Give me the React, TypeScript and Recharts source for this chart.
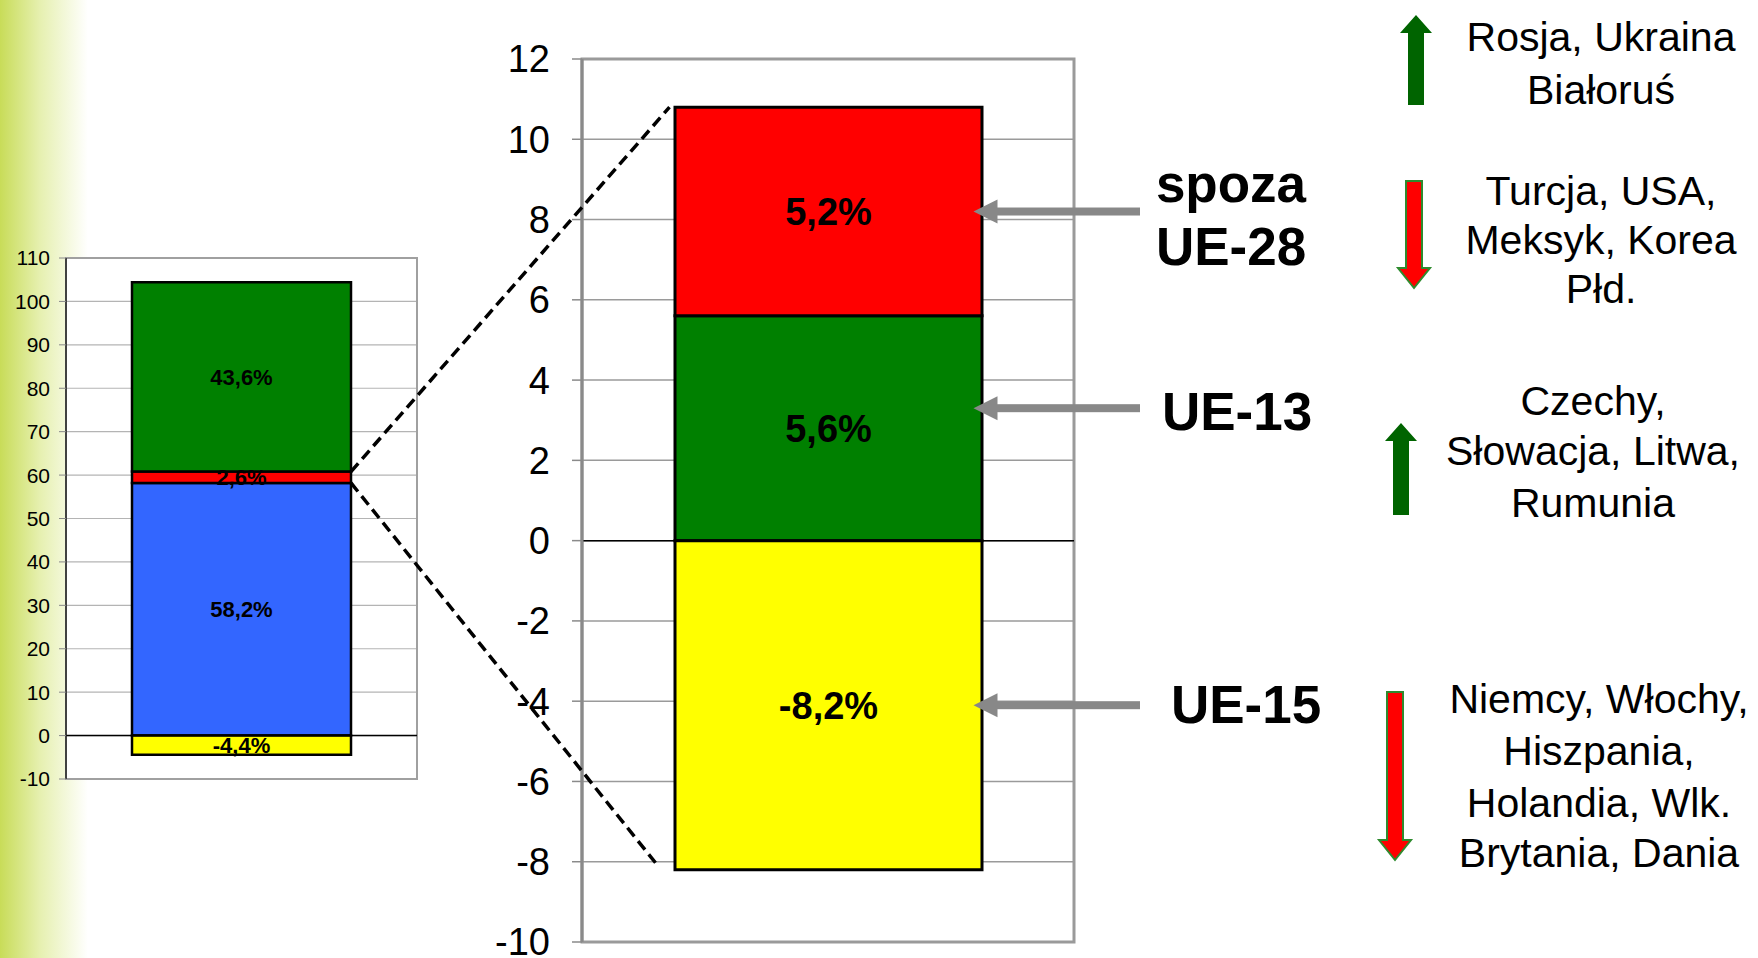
import {
  BarChart,
  Bar,
  XAxis,
  YAxis,
  CartesianGrid,
  LabelList,
  ReferenceLine,
  ReferenceArea,
} from "recharts";

const FONT = '"Liberation Sans", Arial, Helvetica, sans-serif';

// left chart: structure (shares, %)
const overviewCategory = ["struktura"];
const overviewBlue = [58.2];
const overviewRed = [2.6];
const overviewGreen = [43.6];
const overviewYellow = [-4.4];
const overviewTicks = [-10, 0, 10, 20, 30, 40, 50, 60, 70, 80, 90, 100, 110];

// main chart: change by destination (%)
const changeCategory = ["zmiana"];
const changeUE13 = [5.6];
const changeSpoza = [5.2];
const changeUE15 = [-8.2];
const changeTicks = [-10, -8, -6, -4, -2, 0, 2, 4, 6, 8, 10, 12];

const groupNames = [["spoza", "UE-28"], ["UE-13"], ["UE-15"]];
const countryLists = [
  ["Rosja, Ukraina", "Białoruś"],
  ["Turcja, USA,", "Meksyk, Korea", "Płd."],
  ["Czechy,", "Słowacja, Litwa,", "Rumunia"],
  ["Niemcy, Włochy,", "Hiszpania,", "Holandia, Wlk.", "Brytania, Dania"],
];
const countryTrend = ["up", "down", "up", "down"];

const overviewData = overviewCategory.map((name, i) => ({
  name,
  blue: overviewBlue[i],
  red: overviewRed[i],
  green: overviewGreen[i],
  yellow: overviewYellow[i],
}));

const changeData = changeCategory.map((name, i) => ({
  name,
  ue13: changeUE13[i],
  spoza: changeSpoza[i],
  ue15: changeUE15[i],
}));

// layout
const L = { left: 0, width: 430, height: 800, plotLeft: 66, plotRight: 417, plotTop: 258, plotBottom: 779, bar: 219 };
const M = { left: 450, width: 650, height: 958, plotLeft: 582, plotRight: 1074, plotTop: 59, plotBottom: 942, bar: 307 };

const yOf = (c: typeof L, ticks: number[], v: number) => {
  const max = ticks[ticks.length - 1];
  const min = ticks[0];
  return c.plotTop + ((max - v) / (max - min)) * (c.plotBottom - c.plotTop);
};
const barEdges = (c: typeof L) => {
  const mid = (c.plotLeft + c.plotRight) / 2;
  return [mid - c.bar / 2, mid + c.bar / 2];
};

const pct = (v: any) => `${Number(v).toFixed(1).replace(".", ",")}%`;

const countryX = [1601, 1601, 1593, 1599];
const countryBaselines = [[51, 104], [205, 254, 303], [415, 465, 517], [713, 765, 817, 867]];
const groupX = [1231, 1237, 1246];
const groupBaselines = [[202, 265], [430], [723]];
const trendArrows = [
  { x: 1416, y1: 15, y2: 105 },
  { x: 1414, y1: 181, y2: 288 },
  { x: 1401, y1: 423, y2: 515 },
  { x: 1395, y1: 692, y2: 860 },
];
const pointerOffsets = [0, 0.5, 0];

function arrowPoints(x: number, y1: number, y2: number, up: boolean) {
  const sw = 16;
  const hw = 32;
  const hh = up ? 18 : 20;
  if (up) {
    return [
      [x, y1], [x + hw / 2, y1 + hh], [x + sw / 2, y1 + hh], [x + sw / 2, y2],
      [x - sw / 2, y2], [x - sw / 2, y1 + hh], [x - hw / 2, y1 + hh],
    ].map((p) => p.join(",")).join(" ");
  }
  return [
    [x - sw / 2, y1], [x + sw / 2, y1], [x + sw / 2, y2 - hh], [x + hw / 2, y2 - hh],
    [x, y2], [x - hw / 2, y2 - hh], [x - sw / 2, y2 - hh],
  ].map((p) => p.join(",")).join(" ");
}

export default function App() {
  const [, lbr] = barEdges(L);
  const [mbl, mbr] = barEdges(M);
  const overviewRedTop = overviewBlue[0] + overviewRed[0];
  const changeTop = changeUE13[0] + changeSpoza[0];
  const pointerTargets = [
    changeUE13[0] + changeSpoza[0] / 2,
    changeUE13[0] / 2,
    changeUE15[0] / 2,
  ];

  return (
    <div
      style={{
        position: "fixed",
        left: 0,
        top: 0,
        width: 1758,
        height: 958,
        background: "linear-gradient(90deg, #c8dc58 0px, #e6f0b0 40px, #ffffff 88px)",
        fontFamily: FONT,
        overflow: "hidden",
      }}
    >
      <div style={{ position: "absolute", left: L.left, top: 0 }}>
        <BarChart
          width={L.width}
          height={L.height}
          data={overviewData}
          margin={{ top: L.plotTop, right: L.width - L.plotRight, bottom: L.height - L.plotBottom, left: 0 }}
          stackOffset="sign"
          barSize={L.bar}
        >
          <CartesianGrid vertical={false} stroke="#b4b4b4" strokeWidth={1.2} fill="#ffffff" />
          <XAxis dataKey="name" hide />
          <YAxis
            width={L.plotLeft}
            domain={[-10, 110]}
            ticks={overviewTicks}
            interval={0}
            allowDataOverflow
            tick={{ fontSize: 21, fill: "#000", fontFamily: FONT }}
            tickSize={7}
            tickMargin={9}
            axisLine={{ stroke: "#222", strokeWidth: 1.5 }}
            tickLine={{ stroke: "#888" }}
          />
          <ReferenceArea y1={-10} y2={110} fill="none" stroke="#a0a0a0" strokeWidth={2} />
          <Bar dataKey="blue" stackId="s" fill="#3366ff" stroke="#000" strokeWidth={2.5} isAnimationActive={false}>
            <LabelList dataKey="blue" position="center" formatter={pct} fill="#000" fontSize={22} fontWeight="bold" fontFamily={FONT} />
          </Bar>
          <Bar dataKey="red" stackId="s" fill="#ff0000" stroke="#000" strokeWidth={2.5} isAnimationActive={false}>
            <LabelList dataKey="red" position="center" formatter={pct} fill="#000" fontSize={22} fontWeight="bold" fontFamily={FONT} />
          </Bar>
          <Bar dataKey="green" stackId="s" fill="#008000" stroke="#000" strokeWidth={2.5} isAnimationActive={false}>
            <LabelList dataKey="green" position="center" formatter={pct} fill="#000" fontSize={22} fontWeight="bold" fontFamily={FONT} />
          </Bar>
          <Bar dataKey="yellow" stackId="s" fill="#ffff00" stroke="#000" strokeWidth={2.5} isAnimationActive={false}>
            <LabelList dataKey="yellow" position="center" formatter={pct} fill="#000" fontSize={22} fontWeight="bold" fontFamily={FONT} />
          </Bar>
          <ReferenceLine y={0} stroke="#000" strokeWidth={1.5} />
        </BarChart>
      </div>

      <div style={{ position: "absolute", left: M.left, top: 0 }}>
        <BarChart
          width={M.width}
          height={M.height}
          data={changeData}
          margin={{ top: M.plotTop, right: M.width - (M.plotRight - M.left), bottom: M.height - M.plotBottom, left: 0 }}
          stackOffset="sign"
          barSize={M.bar}
        >
          <CartesianGrid vertical={false} stroke="#9a9a9a" strokeWidth={1.5} fill="#ffffff" />
          <XAxis dataKey="name" hide />
          <YAxis
            width={M.plotLeft - M.left}
            domain={[-10, 12]}
            ticks={changeTicks}
            interval={0}
            allowDataOverflow
            tick={{ fontSize: 38, fill: "#000", fontFamily: FONT }}
            tickSize={10}
            tickMargin={22}
            axisLine={{ stroke: "#8a8a8a", strokeWidth: 3 }}
            tickLine={{ stroke: "#8a8a8a", strokeWidth: 1.5 }}
          />
          <ReferenceArea y1={-10} y2={12} fill="none" stroke="#9a9a9a" strokeWidth={3} />
          <Bar dataKey="ue13" stackId="s" fill="#008000" stroke="#000" strokeWidth={3} isAnimationActive={false}>
            <LabelList dataKey="ue13" position="center" formatter={pct} fill="#000" fontSize={38} fontWeight="bold" fontFamily={FONT} />
          </Bar>
          <Bar dataKey="spoza" stackId="s" fill="#ff0000" stroke="#000" strokeWidth={3} isAnimationActive={false}>
            <LabelList dataKey="spoza" position="center" formatter={pct} fill="#000" fontSize={38} fontWeight="bold" fontFamily={FONT} />
          </Bar>
          <Bar dataKey="ue15" stackId="s" fill="#ffff00" stroke="#000" strokeWidth={3} isAnimationActive={false}>
            <LabelList dataKey="ue15" position="center" formatter={pct} fill="#000" fontSize={38} fontWeight="bold" fontFamily={FONT} />
          </Bar>
          <ReferenceLine y={0} stroke="#000" strokeWidth={1.5} />
        </BarChart>
      </div>

      <svg
        width={1758}
        height={958}
        style={{ position: "absolute", left: 0, top: 0, pointerEvents: "none" }}
      >
        {/* zoom lines from the small bar to the detailed one */}
        <line
          x1={lbr}
          y1={yOf(L, overviewTicks, overviewRedTop)}
          x2={mbl - 5}
          y2={yOf(M, changeTicks, changeTop)}
          stroke="#000"
          strokeWidth={3.5}
          strokeDasharray="11 6"
        />
        <line
          x1={lbr}
          y1={yOf(L, overviewTicks, overviewBlue[0])}
          x2={mbl - 19}
          y2={yOf(M, changeTicks, changeUE15[0]) - 7}
          stroke="#000"
          strokeWidth={3.5}
          strokeDasharray="11 6"
        />

        {pointerTargets.map((v, i) => {
          const y = yOf(M, changeTicks, v + pointerOffsets[i]);
          const tip = mbr - 8;
          return (
            <g key={i} fill="#888" stroke="none">
              <rect x={tip + 20} y={y - 4} width={1140 - tip - 20} height={8} />
              <polygon points={`${tip},${y} ${tip + 24},${y - 12} ${tip + 24},${y + 12}`} />
            </g>
          );
        })}

        {groupNames.map((lines, i) =>
          lines.map((t, j) => (
            <text
              key={`${i}-${j}`}
              x={groupX[i]}
              y={groupBaselines[i][j]}
              textAnchor="middle"
              fontSize={53}
              fontWeight="bold"
              fontFamily={FONT}
              fill="#000"
            >
              {t}
            </text>
          ))
        )}

        {trendArrows.map((a, i) => {
          const up = countryTrend[i] === "up";
          return (
            <polygon
              key={i}
              points={arrowPoints(a.x, a.y1, a.y2, up)}
              fill={up ? "#006400" : "#ff0000"}
              stroke={up ? "none" : "#2e8b2e"}
              strokeWidth={2}
            />
          );
        })}

        {countryLists.map((lines, i) =>
          lines.map((t, j) => (
            <text
              key={`${i}-${j}`}
              x={countryX[i]}
              y={countryBaselines[i][j]}
              textAnchor="middle"
              fontSize={41}
              fontFamily={FONT}
              fill="#000"
            >
              {t}
            </text>
          ))
        )}
      </svg>
    </div>
  );
}
